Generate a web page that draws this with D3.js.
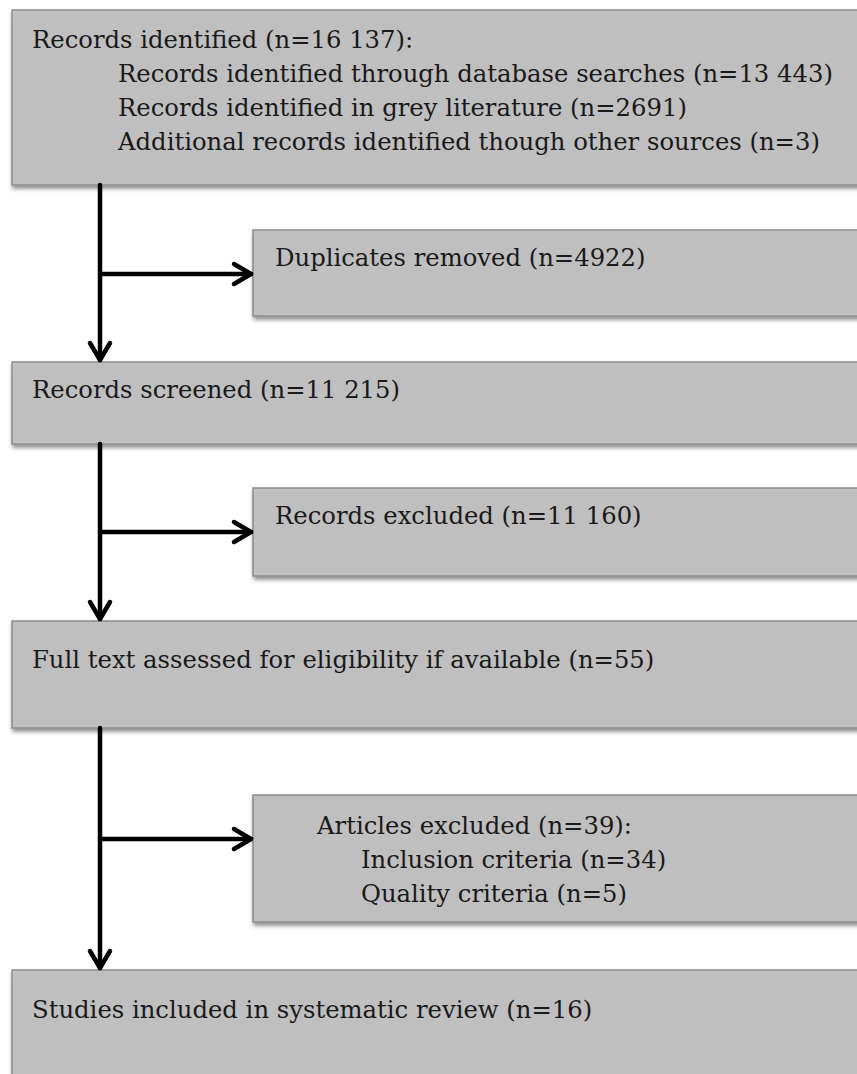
<!DOCTYPE html>
<html>
<head>
<meta charset="utf-8">
<script src="https://cdn.jsdelivr.net/npm/d3@7"></script>
<style>
  html, body { margin: 0; padding: 0; background: #ffffff; }
  svg { display: block; }
</style>
</head>
<body>
<svg id="chart" width="857" height="1074"></svg>
<script>
// ---- data ----
const mainLabels = ["Records identified", "Records screened", "Full text assessed for eligibility if available", "Studies included in systematic review"];
const mainCounts = ["16 137", "11 215", "55", "16"];
const sourceLabels = ["Records identified through database searches", "Records identified in grey literature", "Additional records identified though other sources"];
const sourceCounts = ["13 443", "2691", "3"];
const exclusionLabels = ["Duplicates removed", "Records excluded", "Articles excluded"];
const exclusionCounts = ["4922", "11 160", "39"];
const reasonLabels = ["Inclusion criteria", "Quality criteria"];
const reasonCounts = ["34", "5"];

// ---- layout ----
const W = 857, H = 1074;
const svg = d3.select("#chart");
const FONT = "'DejaVu Serif', serif";
const FS = 24.3;
const lineGap = 34;

const mainBoxes = [
  {y0: 10, y1: 185},
  {y0: 362, y1: 444},
  {y0: 621, y1: 728},
  {y0: 970, y1: 1100}
];
const sideBoxes = [
  {y0: 230, y1: 316, arrowY: 274},
  {y0: 488, y1: 576, arrowY: 532},
  {y0: 795, y1: 922, arrowY: 839}
];
const mainX = 12, sideX = 253, rightX = 862, spineX = 100;

const defs = svg.append("defs");
const f = defs.append("filter").attr("id", "shadow").attr("x", "-5%").attr("y", "-10%").attr("width", "115%").attr("height", "130%");
f.append("feDropShadow").attr("dx", 1).attr("dy", 3).attr("stdDeviation", 2.2).attr("flood-color", "#000").attr("flood-opacity", 0.45);

function box(x, y0, y1) {
  svg.append("rect")
    .attr("x", x).attr("y", y0)
    .attr("width", rightX - x).attr("height", y1 - y0)
    .attr("fill", "#bfbfbf")
    .attr("stroke", "#8c8c8c").attr("stroke-width", 1.5)
    .attr("filter", "url(#shadow)");
}
mainBoxes.forEach(b => box(mainX, b.y0, b.y1));
sideBoxes.forEach(b => box(sideX, b.y0, b.y1));

function text(x, y, s) {
  svg.append("text").attr("x", x).attr("y", y)
    .attr("font-family", FONT).attr("font-size", FS)
    .attr("fill", "#1a1a1a").text(s);
}

// main box texts
const mainBaseline = [48, 398, 668, 1018];
mainLabels.forEach((l, i) => {
  text(32, mainBaseline[i], `${l} (n=${mainCounts[i]})` + (i === 0 ? ":" : ""));
});
sourceLabels.forEach((l, i) => {
  text(118, 48 + lineGap * (i + 1), `${l} (n=${sourceCounts[i]})`);
});
// side box texts
const sideBaseline = [266, 524, 834];
const sideTextX = [275, 275, 317];
exclusionLabels.forEach((l, i) => {
  text(sideTextX[i], sideBaseline[i], `${l} (n=${exclusionCounts[i]})` + (i === 2 ? ":" : ""));
});
reasonLabels.forEach((l, i) => {
  text(361, 834 + lineGap * (i + 1), `${l} (n=${reasonCounts[i]})`);
});

// arrows
const g = svg.append("g").attr("stroke", "#000").attr("stroke-width", 4.5).attr("fill", "none")
  .attr("stroke-linecap", "round").attr("stroke-linejoin", "round");
for (let i = 0; i < 3; i++) {
  const top = mainBoxes[i].y1, bot = mainBoxes[i + 1].y0;
  g.append("line").attr("x1", spineX).attr("x2", spineX).attr("y1", top).attr("y2", bot - 2);
  g.append("path").attr("d", `M${spineX - 10},${bot - 19} L${spineX},${bot - 2} L${spineX + 10},${bot - 19}`);
  const ay = sideBoxes[i].arrowY;
  g.append("line").attr("x1", spineX).attr("x2", sideX - 2).attr("y1", ay).attr("y2", ay);
  g.append("path").attr("d", `M${sideX - 19},${ay - 10} L${sideX - 2},${ay} L${sideX - 19},${ay + 10}`);
}
</script>
</body>
</html>
